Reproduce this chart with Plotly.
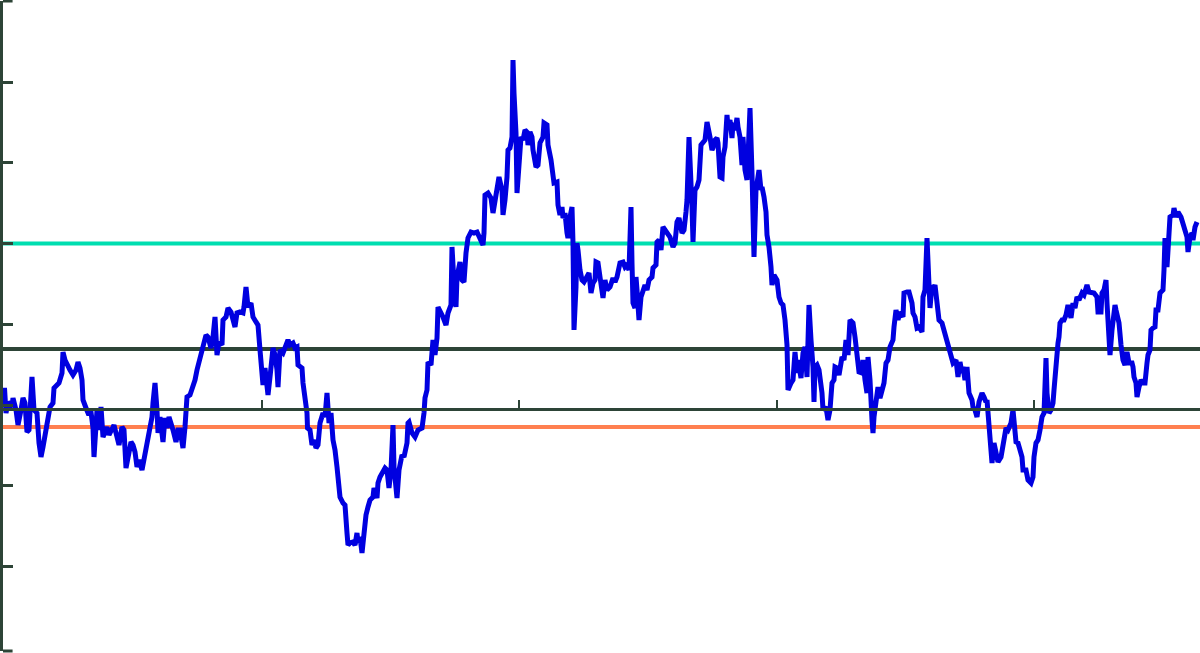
import plotly.graph_objects as go

# blue series, x in days from the start, y relative to the zero tick
series_x = [
    0, 1.5, 3, 5, 9, 10, 13, 15, 18, 20, 22, 24, 26, 29, 31, 34, 36, 38, 40, 43,
    45, 47, 50, 51, 54, 56, 59, 60, 62, 64, 67, 70, 73, 75, 77, 79, 80, 83, 85, 88,
    90, 91, 93, 94, 96, 98, 100, 102, 104, 106, 109, 111, 114, 116, 119, 121, 123, 125, 128, 130,
    132, 134, 136, 139, 141, 144, 146, 149, 150, 152, 154, 155, 157, 159, 160, 162, 164, 166, 169, 170,
    173, 175, 177, 180, 182, 184,
    187, 192, 194, 197, 200, 203, 205, 208, 210, 212, 214, 216, 219, 220, 223, 225, 228, 230, 232, 234,
    237, 240, 241, 243, 245, 248, 250, 253, 255, 257, 259, 260, 262, 264, 265, 267, 270, 272, 274, 275,
    277, 280, 282, 285, 287, 290, 292, 294, 295, 299, 300, 302, 304, 304.5, 307, 309, 311, 313, 315, 317,
    320, 322, 324, 326, 328, 330, 332, 334, 335, 337, 340, 342, 344, 345, 347, 350, 352, 354, 355, 357,
    359, 360, 363, 365, 367, 370, 371, 374, 375, 377, 380, 382, 384, 386, 388, 390, 391, 393, 394, 396,
    399, 401, 404, 405,
    406, 409, 412, 415, 419, 421, 422, 424, 425, 428, 430, 432, 434, 435, 438, 440, 443, 445, 448, 449,
    451, 453, 454, 457, 459, 461, 463, 465, 468, 471, 474, 477, 480, 481, 482, 485, 488, 490, 492, 494,
    496, 499, 500, 502, 504, 505, 507, 509, 510, 511, 513, 514, 516, 518, 520, 522, 524, 525, 527, 529,
    530, 533, 535, 537, 540, 541, 544, 545, 548, 550, 551, 554, 555, 557, 559, 560, 562, 564, 565, 567,
    569, 570, 570.5, 571, 573, 574, 575, 577, 579, 581, 584, 586, 588, 590, 592,
    593, 595, 598, 600, 602, 604, 607, 610, 612, 614, 617, 620, 622, 624, 626, 628, 629, 630, 632, 633,
    634, 636, 638, 640, 642, 644, 646, 649, 650, 653, 654, 656, 658, 660, 662, 664, 667, 670, 672, 674,
    676, 679, 681, 683, 684, 686, 688, 689, 690, 692, 694, 696, 698, 700, 702, 704, 705, 707, 709, 710,
    712, 714, 715, 717, 719, 720, 722, 724, 725, 727, 729, 730, 732, 734, 735, 737, 739, 740, 742, 744,
    745, 747, 749, 750, 751, 753, 754, 756, 758, 759, 761, 763, 764, 766, 768, 769, 771, 774, 776, 778,
    780, 782, 784, 785,
    788, 790, 792, 794, 795, 798, 800, 802, 804, 805, 806, 808, 810, 811, 812, 814, 816, 819, 820, 823,
    825, 827, 829, 831, 832, 834, 836, 839, 841, 843, 845, 847, 850, 852, 854, 856, 859, 860, 862, 864,
    865, 867, 869, 870, 871, 874, 875, 877, 879, 881, 883, 885, 887, 890, 891, 893, 895, 897, 900, 901,
    904, 906, 909, 910, 912, 914, 916, 919, 920, 922, 924, 925, 927, 929, 930, 932, 934, 936, 939, 940,
    943, 945, 947, 949, 950, 953, 955, 957, 959, 960, 962, 964, 966, 969, 970, 972, 974, 976, 979, 981,
    983, 984, 986, 987,
    989, 991, 993, 995, 998, 1000, 1003, 1005, 1008, 1010, 1011, 1013, 1015, 1017, 1019, 1020, 1023, 1025, 1028, 1030,
    1031, 1033, 1035, 1037, 1039, 1041, 1043, 1044, 1046, 1048, 1050, 1051, 1053, 1055, 1056, 1057, 1059, 1061, 1063, 1065,
    1068, 1070, 1072, 1074, 1076, 1079, 1081, 1084, 1086, 1089, 1091, 1094, 1095, 1098, 1099, 1101, 1103, 1104, 1106, 1107,
    1109, 1110, 1112, 1113, 1115, 1116, 1118, 1120, 1122, 1124, 1126, 1129, 1130, 1131, 1133, 1134, 1136, 1138, 1140, 1142,
    1144, 1145, 1147, 1148, 1150, 1152, 1153, 1155, 1157, 1159, 1160, 1161, 1162, 1164, 1165, 1167, 1170, 1171, 1173, 1175,
    1178, 1180, 1182, 1184, 1185, 1187, 1189, 1190, 1192, 1194,
]
series_y = [
    3, 17, -8, 3, -2, 7, -5, -20, -5, 7, 2, -27, -25, 28, -5, -8, -38, -52, -42, -25,
    -20, -2, 2, 17, 20, 22, 32, 53, 45, 40, 35, 30, 35, 43, 37, 25, 5, -3, -8, -7,
    -23, -52, -22, -5, -25, -2, -32, -28, -22, -30, -22, -20, -32, -40, -22, -25, -63, -52, -37, -40,
    -47, -62, -55, -65, -55, -38, -25, -12, 2, 22, -5, -28, -12, -25, -37, -13, -23, -12, -20, -25,
    -37, -25, -25, -43, -22, 8,
    10, 25, 35, 48, 62, 70, 68, 57, 68, 88, 50, 63, 60, 85, 88, 97, 93, 87, 78, 92,
    93, 92, 98, 118, 98, 102, 88, 83, 80, 55, 38, 20, 37, 17, 10, 28, 57, 50, 35, 18,
    55, 52, 58, 65, 60, 62, 57, 58, 40, 37, 22, 8, -8, -23, -25, -40, -35, -43, -40, -18,
    -8, -12, 12, -18, -8, -35, -45, -62, -78, -92, -98, -100, -128, -140, -138, -137, -140, -128, -138, -132,
    -148, -138, -110, -102, -95, -92, -83, -93, -78, -72, -65, -63, -65, -83, -65, -20, -62, -78, -93, -65,
    -50, -52, -38, -18,
    -17, -28, -32, -25, -23, -8, 7, 15, 43, 40, 65, 50, 67, 98, 93, 88, 80, 92, 100, 158,
    122, 98, 128, 143, 125, 123, 152, 167, 173, 172, 173, 167, 160, 172, 210, 212, 207, 192, 205, 215,
    228, 215, 190, 205, 228, 255, 257, 268, 345, 312, 272, 212, 245, 268, 265, 275, 273, 260, 273, 268,
    255, 238, 240, 262, 268, 282, 280, 260, 245, 232, 222, 223, 200, 190, 198, 187, 192, 172, 167, 188,
    198, 162, 112, 75, 118, 162, 155, 135, 125, 123, 128, 132, 112, 122, 125,
    143, 142, 122, 107, 125, 115, 118, 127, 123, 128, 142, 143, 138, 140, 135, 198, 142, 102, 97, 128,
    115, 85, 108, 115, 120, 115, 125, 128, 137, 140, 163, 165, 155, 178, 175, 172, 168, 158, 162, 183,
    187, 172, 175, 193, 205, 268, 232, 198, 163, 215, 218, 225, 260, 262, 265, 283, 275, 268, 255, 257,
    265, 267, 262, 228, 227, 248, 258, 290, 278, 285, 267, 282, 275, 287, 278, 268, 240, 268, 235, 225,
    248, 297, 232, 182, 148, 215, 223, 235, 215, 218, 208, 193, 170, 158, 138, 120, 130, 125, 108, 102,
    100, 85, 60, 15,
    22, 25, 53, 32, 45, 27, 52, 58, 28, 58, 100, 65, 38, 3, 38, 40, 35, 12, -5, -2,
    -15, -5, 22, 25, 38, 37, 30, 48, 45, 65, 50, 85, 82, 68, 53, 33, 32, 45, 25, 12,
    48, 25, -15, -28, -12, 15, 18, 7, 15, 22, 42, 45, 58, 65, 78, 95, 85, 93, 88, 112,
    113, 113, 102, 92, 88, 77, 78, 73, 108, 115, 167, 148, 97, 120, 115, 120, 102, 85, 82, 78,
    67, 62, 52, 43, 42, 45, 28, 43, 32, 38, 25, 38, 12, 5, -2, -5, -12, 3, 12, 8,
    3, 5, -18, -33,
    -58, -38, -48, -57, -52, -38, -23, -25, -18, -5, -18, -37, -38, -45, -52, -65, -65, -75, -78, -72,
    -52, -38, -35, -25, -12, -8, 47, 12, -8, -5, 2, 15, 48, 62, 68, 82, 85, 85, 90, 100,
    87, 102, 97, 108, 105, 112, 110, 120, 113, 113, 112, 108, 93, 93, 112, 115, 125, 102, 72, 50,
    75, 82, 100, 95, 85, 82, 60, 45, 40, 53, 42, 42, 38, 28, 22, 8, 18, 25, 22, 22,
    42, 50, 55, 75, 77, 78, 95, 95, 112, 115, 115, 135, 167, 138, 165, 188, 190, 197, 188, 193,
    188, 182, 177, 168, 153, 168, 172, 165, 178, 183,
]

# reference levels drawn across the whole chart
level_names = ["upper", "middle", "lower"]
level_values = [161.4, 56, -22]
level_colors = ["#00DEB0", "#2D4437", "#FF7F50"]

x_range = [0, 1197]
y_range = [-246, 404]
x_ticks = [258.7, 516.2, 773.7, 1031.2]
y_ticks = [-161.4, -80.7, 0, 80.7, 161.4, 242.1, 322.8]
x_axis_level = -4.3

AXIS = "#2D4437"

fig = go.Figure()
for name, val, col in zip(level_names, level_values, level_colors):
    fig.add_trace(go.Scatter(x=x_range, y=[val, val], mode="lines", name=name,
                             line=dict(color=col, width=4), hoverinfo="skip"))

fig.add_trace(go.Scatter(x=series_x, y=series_y, mode="lines", name="series",
                         line=dict(color="#0000E0", width=5)))

# end caps of the y axis (outer ticks at both ends of its range)
for end in (0, 1):
    fig.add_shape(type="line", xref="paper", yref="paper", x0=0, x1=0.008, y0=end, y1=end,
                  line=dict(color=AXIS, width=3))

pos = (x_axis_level - y_range[0]) / (y_range[1] - y_range[0])
fig.update_layout(
    width=1200, height=653,
    margin=dict(l=3, r=0, t=1, b=2),
    paper_bgcolor="white", plot_bgcolor="white",
    showlegend=False,
    xaxis=dict(range=x_range, showgrid=False, zeroline=False, showline=True,
               linecolor=AXIS, linewidth=3, ticks="inside", ticklen=8, tickwidth=2,
               tickcolor=AXIS, tickvals=x_ticks, showticklabels=False,
               anchor="free", position=pos),
    yaxis=dict(range=y_range, showgrid=False, zeroline=False, showline=True,
               linecolor=AXIS, linewidth=3, ticks="inside", ticklen=10, tickwidth=3,
               tickcolor=AXIS, tickvals=y_ticks, showticklabels=False),
)

# page margin off so the chart sits at the window's corner
fig.write_html("out.html", config={"displayModeBar": False},
               post_script="document.body.style.margin='0';document.body.style.overflow='hidden';")
